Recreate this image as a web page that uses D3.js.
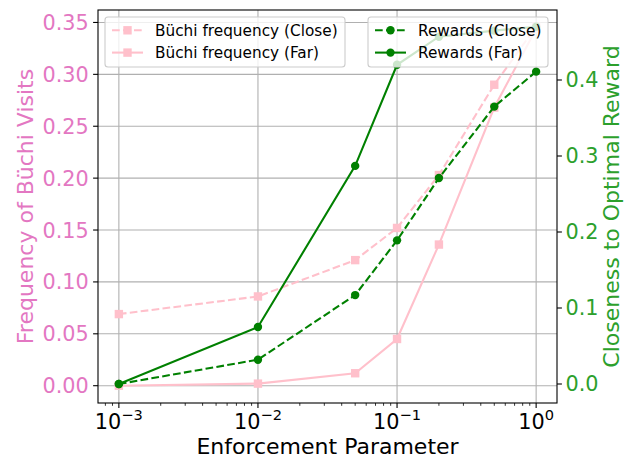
<!DOCTYPE html>
<html>
<head>
<meta charset="utf-8">
<script src="https://cdn.jsdelivr.net/npm/d3@7"></script>
<style>
  html, body { margin: 0; padding: 0; background: #fff; }
  svg { display: block; font-family: "DejaVu Sans", sans-serif; }
</style>
</head>
<body>
<svg id="chart" width="624" height="464"></svg>
<script>
// ---- data ----
const enforcement = [0.001, 0.01, 0.05, 0.1, 0.2, 0.5, 1.0];
const buchiClose = [0.069, 0.086, 0.121, 0.152, 0.203, 0.290, 0.346];
const buchiFar = [0.000, 0.002, 0.012, 0.045, 0.136, 0.268, 0.344];
const rewardsClose = [0.000, 0.032, 0.117, 0.189, 0.271, 0.365, 0.411];
const rewardsFar = [0.000, 0.075, 0.287, 0.420, 0.457, 0.465, 0.470];
const xTicks = [0.001, 0.01, 0.1, 1];
const xTickExp = ["\u22123", "\u22122", "\u22121", "0"];
const leftTicks = [0, 0.05, 0.10, 0.15, 0.20, 0.25, 0.30, 0.35];
const rightTicks = [0, 0.1, 0.2, 0.3, 0.4];
const legendLeft = ["B\u00fcchi frequency (Close)", "B\u00fcchi frequency (Far)"];
const legendRight = ["Rewards (Close)", "Rewards (Far)"];

// ---- layout ----
const L = 98, R = 557, T = 10, B = 403;
const PINK = "#ffc0cb", GREEN = "#008000";
const TPINK = "#e377c2", TGREEN = "#2ca02c";
const LW = 2.08, DASH = "7.7,3.3";
const TICKFONT = 20.8, LABELFONT = 22, LEGFONT = 15.3;

const svg = d3.select("#chart");

const x = d3.scaleLog().domain([Math.pow(10, -3.15), Math.pow(10, 0.15)]).range([L, R]);
const yL = d3.scaleLinear().domain([-0.01667, 0.3620]).range([B, T]);
const yR = d3.scaleLinear().domain([-0.025, 0.4921]).range([B, T]);

svg.append("defs").append("clipPath").attr("id", "clip")
  .append("rect").attr("x", L).attr("y", T).attr("width", R - L).attr("height", B - T);

// grid
const grid = svg.append("g");
grid.selectAll(".gx").data(xTicks).enter().append("line")
  .attr("x1", d => x(d)).attr("x2", d => x(d)).attr("y1", T).attr("y2", B)
  .attr("stroke", "#b0b0b0").attr("stroke-width", 1.1);
grid.selectAll(".gy").data(leftTicks).enter().append("line")
  .attr("x1", L).attr("x2", R).attr("y1", d => yL(d)).attr("y2", d => yL(d))
  .attr("stroke", "#b0b0b0").attr("stroke-width", 1.1);

function drawSeries(g, vals, yScale, color, dashed, marker) {
  const line = d3.line().x((d, i) => x(enforcement[i])).y(d => yScale(d));
  g.append("path").datum(vals).attr("d", line)
    .attr("fill", "none").attr("stroke", color).attr("stroke-width", LW)
    .attr("stroke-dasharray", dashed ? DASH : null);
  if (marker === "square") {
    g.selectAll(null).data(vals).enter().append("rect")
      .attr("x", (d, i) => x(enforcement[i]) - 4.2).attr("y", d => yScale(d) - 4.2)
      .attr("width", 8.4).attr("height", 8.4).attr("fill", color);
  } else {
    g.selectAll(null).data(vals).enter().append("circle")
      .attr("cx", (d, i) => x(enforcement[i])).attr("cy", d => yScale(d))
      .attr("r", 4.2).attr("fill", color);
  }
}

function drawLegend(bx, by, bw, bh, labels, color, marker, sx0, sx1, tx) {
  const g = svg.append("g");
  g.append("rect").attr("x", bx).attr("y", by).attr("width", bw).attr("height", bh)
    .attr("rx", 3).attr("fill", "white").attr("fill-opacity", 0.8)
    .attr("stroke", "#cccccc").attr("stroke-width", 1.1);
  const rows = [by + 13.3, by + 35.6];
  labels.forEach((lab, i) => {
    const yy = rows[i];
    g.append("line").attr("x1", sx0).attr("x2", sx1).attr("y1", yy).attr("y2", yy)
      .attr("stroke", color).attr("stroke-width", LW)
      .attr("stroke-dasharray", i === 0 ? DASH : null);
    const mx = (sx0 + sx1) / 2;
    if (marker === "square") {
      g.append("rect").attr("x", mx - 4.2).attr("y", yy - 4.2).attr("width", 8.4).attr("height", 8.4).attr("fill", color);
    } else {
      g.append("circle").attr("cx", mx).attr("cy", yy).attr("r", 4.2).attr("fill", color);
    }
    g.append("text").attr("x", tx).attr("y", yy).attr("dy", "0.36em")
      .attr("font-size", LEGFONT).attr("fill", "#000").text(lab);
  });
}

// left-axis series
const g1 = svg.append("g").attr("clip-path", "url(#clip)");
drawSeries(g1, buchiClose, yL, PINK, true, "square");
drawSeries(g1, buchiFar, yL, PINK, false, "square");
drawLegend(105, 17, 240, 50, legendLeft, PINK, "square", 112, 143, 155);

// right-axis series
const g2 = svg.append("g").attr("clip-path", "url(#clip)");
drawSeries(g2, rewardsClose, yR, GREEN, true, "circle");
drawSeries(g2, rewardsFar, yR, GREEN, false, "circle");
drawLegend(368, 17, 180, 50, legendRight, GREEN, "circle", 375, 406, 418);

// frame
svg.append("rect").attr("x", L).attr("y", T).attr("width", R - L).attr("height", B - T)
  .attr("fill", "none").attr("stroke", "#000").attr("stroke-width", 1.1);

// x axis ticks
const xa = svg.append("g");
const minor = [];
for (let e = -4; e <= 0; e++) for (let m = 2; m <= 9; m++) {
  const v = m * Math.pow(10, e);
  if (x(v) >= L && x(v) <= R) minor.push(v);
}
xa.selectAll(".mn").data(minor).enter().append("line")
  .attr("x1", d => x(d)).attr("x2", d => x(d)).attr("y1", B).attr("y2", B + 2.8)
  .attr("stroke", "#000").attr("stroke-width", 0.8);
xa.selectAll(".mj").data(xTicks).enter().append("line")
  .attr("x1", d => x(d)).attr("x2", d => x(d)).attr("y1", B).attr("y2", B + 4.9)
  .attr("stroke", "#000").attr("stroke-width", 1.1);
xTicks.forEach((d, i) => {
  const t = xa.append("text").attr("x", x(d)).attr("y", 428.5)
    .attr("font-size", TICKFONT).attr("text-anchor", "middle").attr("fill", "#000");
  t.append("tspan").text("10");
  t.append("tspan").attr("font-size", 14.6).attr("dy", -8.5).text(xTickExp[i]);
});
svg.append("text").attr("x", (L + R) / 2).attr("y", 454).attr("text-anchor", "middle")
  .attr("font-size", LABELFONT).attr("fill", "#000").text("Enforcement Parameter");

// left y axis
const ya = svg.append("g");
ya.selectAll("line").data(leftTicks).enter().append("line")
  .attr("x1", L - 4.9).attr("x2", L).attr("y1", d => yL(d)).attr("y2", d => yL(d))
  .attr("stroke", "#000").attr("stroke-width", 1.1);
ya.selectAll("text").data(leftTicks).enter().append("text")
  .attr("x", L - 9.2).attr("y", d => yL(d)).attr("dy", "0.36em").attr("text-anchor", "end")
  .attr("font-size", TICKFONT).attr("fill", TPINK).text(d => d3.format(".2f")(d));
svg.append("text").attr("transform", `translate(33,${(T + B) / 2}) rotate(-90)`)
  .attr("text-anchor", "middle").attr("font-size", LABELFONT).attr("fill", TPINK)
  .text("Frequency of B\u00fcchi Visits");

// right y axis
const yr = svg.append("g");
yr.selectAll("line").data(rightTicks).enter().append("line")
  .attr("x1", R).attr("x2", R + 4.9).attr("y1", d => yR(d)).attr("y2", d => yR(d))
  .attr("stroke", "#000").attr("stroke-width", 1.1);
yr.selectAll("text").data(rightTicks).enter().append("text")
  .attr("x", R + 8.5).attr("y", d => yR(d)).attr("dy", "0.36em").attr("text-anchor", "start")
  .attr("font-size", TICKFONT).attr("fill", TGREEN).text(d => d3.format(".1f")(d));
svg.append("text").attr("transform", `translate(619,${(T + B) / 2}) rotate(-90)`)
  .attr("text-anchor", "middle").attr("font-size", LABELFONT).attr("fill", TGREEN)
  .text("Closeness to Optimal Reward");
</script>
</body>
</html>
